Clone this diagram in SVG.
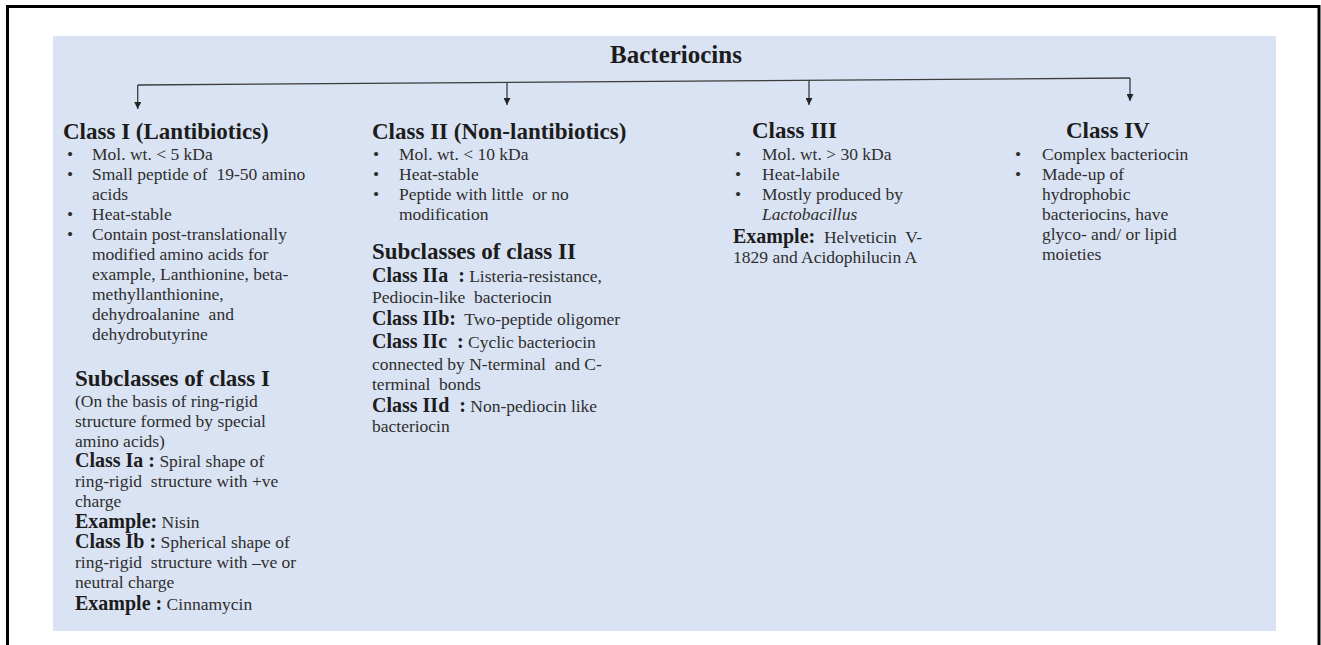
<svg xmlns="http://www.w3.org/2000/svg" width="1321" height="645" viewBox="0 0 1321 645">
<style>
text{font-family:"Liberation Serif","Times New Roman",serif;white-space:pre;}
.h{font-size:23px;font-weight:bold;fill:#1c1c1c;}
.b{font-size:17.5px;fill:#2e2e2e;}
.lb{font-size:20px;font-weight:bold;fill:#1c1c1c;}
.conn{stroke:#3c3c3c;stroke-width:1.3;fill:none;}
</style>
<defs>
<marker id="arr" viewBox="0 0 8 8" refX="8" refY="4" markerWidth="7" markerHeight="7" markerUnits="userSpaceOnUse" orient="auto">
<path d="M0,0 L8,4 L0,8 z" fill="#262626"/>
</marker>
</defs>
<rect x="0" y="0" width="1321" height="645" fill="#ffffff"/>
<path d="M7.5,645 V6.5 H1319 V645" fill="none" stroke="#000" stroke-width="3"/>
<rect x="53" y="36" width="1223" height="595" fill="#dae3f3"/>

<g id="connectors">
<path class="conn" d="M137.7,85 L1130,78"/>
<path class="conn" d="M137.7,85 V109" marker-end="url(#arr)"/>
<path class="conn" d="M507,82.4 V105" marker-end="url(#arr)"/>
<path class="conn" d="M809,80.3 V105" marker-end="url(#arr)"/>
<path class="conn" d="M1130,78 V101" marker-end="url(#arr)"/>
</g>

<g id="title">
<text x="676" y="63" text-anchor="middle" style="font-size:25px;font-weight:bold;fill:#1c1c1c">Bacteriocins</text>
</g>

<g id="class1">
<text class="h" x="63" y="139">Class I (Lantibiotics)</text>
<text class="b" x="67" y="160">•</text>
<text class="b" x="67" y="180">•</text>
<text class="b" x="67" y="220">•</text>
<text class="b" x="67" y="240">•</text>
<text class="b" x="92" y="160">Mol. wt. &lt; 5 kDa</text>
<text class="b" x="92" y="180">Small peptide of  19-50 amino</text>
<text class="b" x="92" y="200">acids</text>
<text class="b" x="92" y="220">Heat-stable</text>
<text class="b" x="92" y="240">Contain post-translationally</text>
<text class="b" x="92" y="260">modified amino acids for</text>
<text class="b" x="92" y="280">example, Lanthionine, beta-</text>
<text class="b" x="92" y="300">methyllanthionine,</text>
<text class="b" x="92" y="320">dehydroalanine  and</text>
<text class="b" x="92" y="340">dehydrobutyrine</text>
<text class="h" x="75" y="386">Subclasses of class I</text>
<text class="b" x="75" y="407">(On the basis of ring-rigid</text>
<text class="b" x="75" y="427">structure formed by special</text>
<text class="b" x="75" y="447">amino acids)</text>
<text class="b" x="75" y="467"><tspan class="lb">Class Ia :</tspan> Spiral shape of</text>
<text class="b" x="75" y="487">ring-rigid  structure with +ve</text>
<text class="b" x="75" y="507">charge</text>
<text class="b" x="75" y="528"><tspan class="lb">Example:</tspan> Nisin</text>
<text class="b" x="75" y="548"><tspan class="lb">Class Ib :</tspan> Spherical shape of</text>
<text class="b" x="75" y="568">ring-rigid  structure with –ve or</text>
<text class="b" x="75" y="588">neutral charge</text>
<text class="b" x="75" y="610"><tspan class="lb">Example :</tspan> Cinnamycin</text>
</g>

<g id="class2">
<text class="h" x="372" y="139">Class II (Non-lantibiotics)</text>
<text class="b" x="373" y="160">•</text>
<text class="b" x="373" y="180">•</text>
<text class="b" x="373" y="200">•</text>
<text class="b" x="399" y="160">Mol. wt. &lt; 10 kDa</text>
<text class="b" x="399" y="180">Heat-stable</text>
<text class="b" x="399" y="200">Peptide with little  or no</text>
<text class="b" x="399" y="220">modification</text>
<text class="h" x="372" y="259">Subclasses of class II</text>
<text class="b" x="372" y="282"><tspan class="lb">Class IIa  :</tspan> Listeria-resistance,</text>
<text class="b" x="372" y="303">Pediocin-like  bacteriocin</text>
<text class="b" x="372" y="325"><tspan class="lb">Class IIb:</tspan>  Two-peptide oligomer</text>
<text class="b" x="372" y="348"><tspan class="lb">Class IIc  :</tspan> Cyclic bacteriocin</text>
<text class="b" x="372" y="370">connected by N-terminal  and C-</text>
<text class="b" x="372" y="390">terminal  bonds</text>
<text class="b" x="372" y="412"><tspan class="lb">Class IId  :</tspan> Non-pediocin like</text>
<text class="b" x="372" y="432">bacteriocin</text>
</g>

<g id="class3">
<text class="h" x="752" y="138">Class III</text>
<text class="b" x="735" y="160">•</text>
<text class="b" x="735" y="180">•</text>
<text class="b" x="735" y="200">•</text>
<text class="b" x="762" y="160">Mol. wt. &gt; 30 kDa</text>
<text class="b" x="762" y="180">Heat-labile</text>
<text class="b" x="762" y="200">Mostly produced by</text>
<text class="b" x="762" y="220" font-style="italic">Lactobacillus</text>
<text class="b" x="733" y="243"><tspan class="lb">Example:</tspan>  Helveticin  V-</text>
<text class="b" x="733" y="263">1829 and Acidophilucin A</text>
</g>

<g id="class4">
<text class="h" x="1066" y="138">Class IV</text>
<text class="b" x="1015" y="160">•</text>
<text class="b" x="1015" y="180">•</text>
<text class="b" x="1042" y="160">Complex bacteriocin</text>
<text class="b" x="1042" y="180">Made-up of</text>
<text class="b" x="1042" y="200">hydrophobic</text>
<text class="b" x="1042" y="220">bacteriocins, have</text>
<text class="b" x="1042" y="240">glyco- and/ or lipid</text>
<text class="b" x="1042" y="260">moieties</text>
</g>
</svg>
